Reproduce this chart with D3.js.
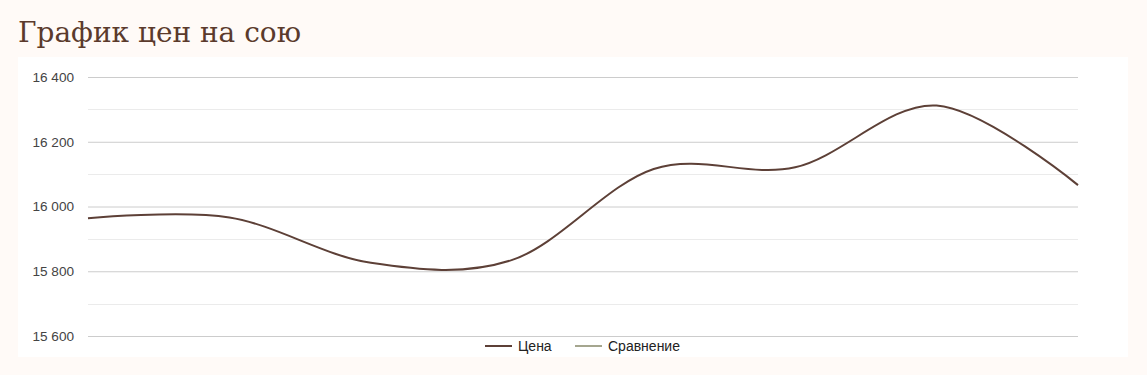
<!DOCTYPE html>
<html>
<head>
<meta charset="utf-8">
<script src="https://cdn.jsdelivr.net/npm/d3@7"></script>
<style>
  html, body { margin: 0; padding: 0; background: #fffaf7; }
  svg { display: block; }
</style>
</head>
<body>
<svg id="chart" width="1147" height="375"></svg>
<script>
const title = "График цен на сою";
const categories = ["1", "2", "3", "4", "5", "6", "7", "8"];
const priceValues = [15964, 15966, 15826, 15835, 16116, 16121, 16312, 16066];
const comparisonValues = [];
const yTicks = [15600, 15800, 16000, 16200, 16400];
const yMinorTicks = [15700, 15900, 16100, 16300];
const seriesNames = ["Цена", "Сравнение"];
const seriesColors = ["#5d4037", "#a5a68f"];

const svg = d3.select("#chart");
const W = 1147, H = 375;
svg.append("rect").attr("width", W).attr("height", H).attr("fill", "#fffaf7");
// white panel
svg.append("rect").attr("x", 18).attr("y", 57).attr("width", 1110).attr("height", 300).attr("fill", "#ffffff");

svg.append("text")
  .attr("x", 18).attr("y", 42)
  .attr("font-family", "'DejaVu Serif', serif")
  .attr("font-size", 28)
  .attr("fill", "#5b3a2c")
  .attr("textLength", 283)
  .attr("lengthAdjust", "spacingAndGlyphs")
  .text(title);

const x = d3.scalePoint().domain(categories).range([88, 1078]);
const y = d3.scaleLinear().domain([15600, 16400]).range([336, 77]);

const g = svg.append("g");
// minor gridlines
g.selectAll("line.minor").data(yMinorTicks).join("line")
  .attr("class", "minor")
  .attr("x1", 88).attr("x2", 1078)
  .attr("y1", d => Math.round(y(d)) + 0.5).attr("y2", d => Math.round(y(d)) + 0.5)
  .attr("stroke", "#ebebeb").attr("stroke-width", 1);

const fmt = d => d3.format(",")(d).replace(/,/g, " ");
const yAxis = d3.axisLeft(y).tickValues(yTicks).tickSize(-990).tickFormat(fmt).tickPadding(14);
const ax = g.append("g").attr("transform", "translate(88,0)").call(yAxis);
ax.select(".domain").remove();
ax.selectAll(".tick line").attr("stroke", "#cccccc");
ax.selectAll(".tick text")
  .attr("font-family", "'Liberation Sans', Arial, sans-serif")
  .attr("font-size", 13.6)
  .attr("fill", "#444444");

const line = d3.line()
  .x((d, i) => x(categories[i]))
  .y(d => y(d))
  .curve(d3.curveCatmullRom.alpha(0));

g.append("path").datum(priceValues)
  .attr("d", line)
  .attr("fill", "none")
  .attr("stroke", seriesColors[0])
  .attr("stroke-width", 2);

if (comparisonValues.length) {
  g.append("path").datum(comparisonValues)
    .attr("d", line).attr("fill", "none")
    .attr("stroke", seriesColors[1]).attr("stroke-width", 2);
}

// legend
const legendX = [485, 575];
const lg = svg.append("g");
seriesNames.forEach((name, i) => {
  lg.append("line")
    .attr("x1", legendX[i]).attr("x2", legendX[i] + 27)
    .attr("y1", 346).attr("y2", 346)
    .attr("stroke", seriesColors[i]).attr("stroke-width", 2);
  lg.append("text")
    .attr("x", legendX[i] + 33).attr("y", 351)
    .attr("font-family", "'Liberation Sans', Arial, sans-serif")
    .attr("font-size", 14)
    .attr("fill", "#222222")
    .text(name);
});
</script>
</body>
</html>
